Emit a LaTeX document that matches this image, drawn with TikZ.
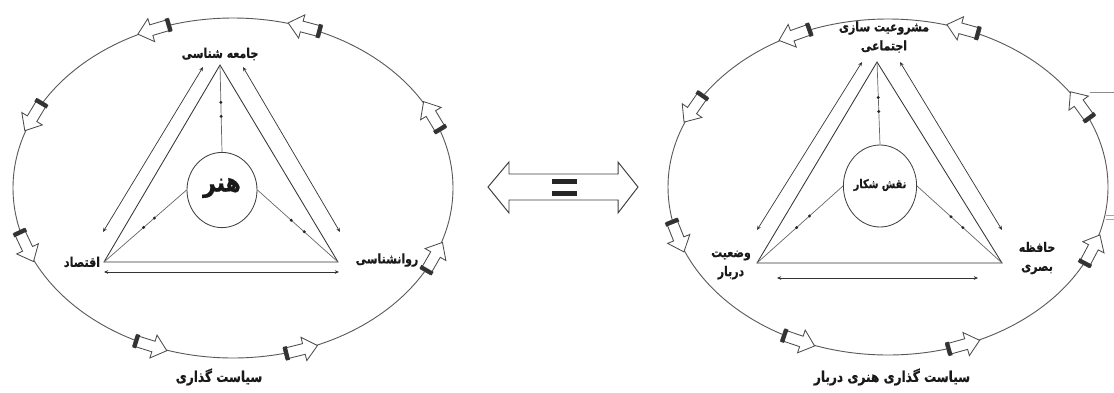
\documentclass[tikz,border=0pt]{standalone}
\usepackage{fontspec}
\usetikzlibrary{arrows.meta,calc,shapes.geometric}
\TeXXeTstate=1
\newfontfamily\fa[Script=Arabic,FakeStretch=0.82,FakeBold=0.6]{DejaVu Sans Bold}
\tikzset{
  ring/.style={draw=black!65, line width=0.65pt},
  tri/.style={draw=black!80, line width=0.6pt, line join=miter},
  rel/.style={draw=black!80, line width=0.5pt, {Stealth[length=3pt,width=2.6pt]}-{Stealth[length=3pt,width=2.6pt]}},
  spoke/.style={draw=black!60, line width=0.5pt},
  dotmark/.style={circle, fill=black!85, inner sep=0pt, minimum size=2.3pt},
  lbl/.style={font=\fa\fontsize{9.5}{13.5}\selectfont, align=center, inner sep=1pt, text=black!90},
  biglbl/.style={lbl, font=\fa\fontsize{10.5}{13}\selectfont},
  core/.style={ellipse, draw=black!75, line width=0.6pt, inner sep=0pt},
  blockarr/.pic={
    \draw[black!70, line width=0.6pt, fill=white, line join=miter]
      (-17,-5.5) -- (3,-5.5) -- (3,-12) -- (17,0) -- (3,12) -- (3,5.5) -- (-17,5.5) -- cycle;
    \fill[black!80] (-17,-7) rectangle (-13,7);
  }
}
\begin{document}
\begin{tikzpicture}[x=0.25mm,y=-0.25mm]
\useasboundingbox (0,0) rectangle (1114,392);

% ---------- left diagram ----------
\draw[ring] (233,188) ellipse [x radius=220, y radius=170];
\foreach \t in {111,71,155,200,248,288,336,25}{
  \pgfmathsetmacro\ang{atan2(170*cos(\t),-220*sin(\t))}
  \pic[rotate=\ang] at ({233+220*cos(\t)},{188-170*sin(\t)}) {blockarr};
}
\coordinate (A1) at (220,65);
\coordinate (L1) at (104,262);
\coordinate (R1) at (338,262);
\draw[tri] (A1) -- (L1) -- (R1) -- cycle;
\coordinate (o1a) at (103,232); \coordinate (o1b) at (203,67);
\coordinate (o1c) at (243,67);  \coordinate (o1d) at (340,232);
\coordinate (b1a) at (104,272); \coordinate (b1b) at (339,272);
\draw[rel] (o1a) -- (o1b);
\draw[rel] (o1c) -- (o1d);
\draw[rel] (b1a) -- (b1b);
\node[core, minimum width=17.5mm, minimum height=18.8mm] (c1) at (222,190) {};
\node[lbl, font=\fa\fontsize{19}{22}\selectfont] (t1) at (222,188) {\beginR هنر\endR};
\draw[spoke] (c1.north) -- node[pos=0.41,dotmark]{} node[pos=0.57,dotmark]{} (A1);
\draw[spoke] (c1.west) -- node[pos=0.39,dotmark]{} node[pos=0.52,dotmark]{} (L1);
\draw[spoke] (c1.east) -- node[pos=0.42,dotmark]{} node[pos=0.58,dotmark]{} (R1);
\node[lbl] (s1) at (220,54) {\beginR جامعه شناسی\endR};
\node[lbl] (e1) at (82,262) {\beginR اقتصاد\endR};
\node[lbl] (p1) at (387,260) {\beginR روانشناسی\endR};
\node[biglbl] (g1) at (219,377) {\beginR سیاست گذاری\endR};

% ---------- middle equality arrow ----------
\draw[black!75, line width=0.7pt, line join=miter, fill=white]
  (488,187) -- (509,162) -- (509,174) -- (618,174) -- (618,162) -- (638,187)
  -- (618,213) -- (618,200) -- (509,200) -- (509,213) -- cycle;
\fill[black!85] (552,179) rectangle (577,184);
\fill[black!85] (552,191) rectangle (577,196);

% ---------- right diagram ----------
\draw[ring] (888,187) ellipse [x radius=220, y radius=168];
\foreach \t in {115,70,152,197,246,290,338,29}{
  \pgfmathsetmacro\ang{atan2(168*cos(\t),-220*sin(\t))}
  \pic[rotate=\ang] at ({888+220*cos(\t)},{187-168*sin(\t)}) {blockarr};
}
\coordinate (A2) at (877,62);
\coordinate (L2) at (757,263);
\coordinate (R2) at (1002,263);
\draw[tri] (A2) -- (L2) -- (R2) -- cycle;
\coordinate (o2a) at (757,230); \coordinate (o2b) at (862,62);
\coordinate (o2c) at (900,62);  \coordinate (o2d) at (1002,230);
\coordinate (b2a) at (777,278); \coordinate (b2b) at (978,278);
\draw[rel] (o2a) -- (o2b);
\draw[rel] (o2c) -- (o2d);
\draw[rel] (b2a) -- (b2b);
\node[core, minimum width=18.3mm, minimum height=20.5mm] (c2) at (880,186) {};
\node[lbl, font=\fa\fontsize{8.5}{10}\selectfont] (t2) at (880,185) {\beginR نقش شکار\endR};
\draw[spoke] (c2.north) -- node[pos=0.40,dotmark]{} node[pos=0.57,dotmark]{} (A2);
\draw[spoke] (c2.west) -- node[pos=0.39,dotmark]{} node[pos=0.54,dotmark]{} (L2);
\draw[spoke] (c2.east) -- node[pos=0.40,dotmark]{} node[pos=0.54,dotmark]{} (R2);
\node[lbl] (s2) at (884,37) {\beginR مشروعیت سازی\endR\\\beginR اجتماعی\endR};
\node[lbl] (e2) at (731,265) {\beginR وضعیت\endR\\\beginR دربار\endR};
\node[lbl] (p2) at (1037,258) {\beginR حافظه\endR\\\beginR بصری\endR};
\node[biglbl] (g2) at (892,377) {\beginR سیاست گذاری هنری دربار\endR};

% ---------- cropped remnants at right edge ----------
\draw[black!45, line width=0.6pt] (1090,92) -- (1114,92);
\draw[black!35, line width=0.5pt] (1106,215) -- (1114,215);
\draw[black!35, line width=0.5pt] (1106,219) -- (1114,219);
\end{tikzpicture}
\end{document}
